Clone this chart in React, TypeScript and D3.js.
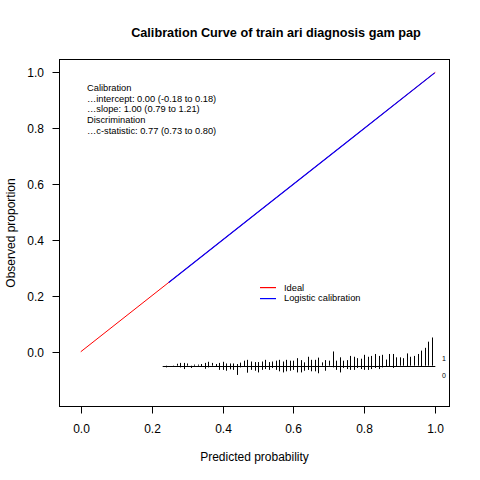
import React, { useEffect, useRef } from 'react';
import * as d3 from 'd3';

// spike histogram bins (predicted probability)
const bins = d3.range(24, 100).map((v) => v / 100);
// heights of spikes for outcome = 1 (upwards) and outcome = 0 (downwards), x1000 in y units
const spikesUp = [
  0, 0, 0, 7, 10, 10, 8, 0, 4, 4, 6, 10, 14, 10, 6, 10, 14, 8, 8, 8, 6, 11, 18, 21, 15, 13, 13, 15, 21, 13, 15, 18, 21,
  15, 21, 18, 18, 27, 20, 12, 32, 21, 21, 29, 12, 20, 18, 51, 18, 30, 18, 20, 35, 32, 27, 25, 39, 32, 35, 42, 35, 39,
  22, 42, 42, 30, 30, 27, 44, 32, 35, 42, 54, 64, 86, 101,
];
const spikesDown = [
  6, 0, 4, 0, 6, 12, 0, 8, 0, 0, 4, 11, 6, 0, 4, 15, 15, 18, 13, 15, 33, 6, 4, 25, 15, 18, 24, 15, 12, 15, 8, 15, 20,
  24, 20, 18, 15, 24, 24, 18, 15, 20, 20, 27, 0, 18, 0, 6, 15, 24, 8, 12, 15, 15, 8, 12, 15, 15, 12, 8, 12, 6, 4, 4,
  8, 4, 0, 0, 4, 0, 0, 0, 4, 0, 0, 0,
];
const predRange = [0.231, 1.0];

const ideal: [number, number][] = [
  [0, 0],
  [1, 1],
];
const logistic: [number, number][] = [
  [0.248, 0.248],
  [0.5, 0.5],
  [0.75, 0.75],
  [0.998, 0.998],
];

const ticks = [0, 0.2, 0.4, 0.6, 0.8, 1.0];
const statsLines = [
  'Calibration',
  '...intercept: 0.00 (-0.18 to 0.18)',
  '...slope: 1.00 (0.79 to 1.21)',
  'Discrimination',
  '...c-statistic: 0.77 (0.73 to 0.80)',
];
const legendItems = [
  { name: 'Ideal', color: '#ff0000' },
  { name: 'Logistic calibration', color: '#0000ff' },
];

const CalibrationPlot: React.FC = () => {
  const ref = useRef<SVGSVGElement>(null);

  useEffect(() => {
    const width = 480;
    const height = 480;
    const left = 59.5;
    const right = 449.5;
    const top = 59.5;
    const bottom = 406.5;
    const font = 'Liberation Sans, Arial, sans-serif';

    const svg = d3.select(ref.current).attr('width', width).attr('height', height);

    const x = d3.scaleLinear().domain([-0.06, 1.04]).range([left, right]);
    const y = d3.scaleLinear().domain([-0.196, 1.046]).range([bottom, top]);
    const spikeScale = d3.scaleLinear().domain([0, 1000]).range([0, 1]);
    const base = -0.05;

    svg.append('rect').attr('width', width).attr('height', height).attr('fill', 'white');

    // title
    svg
      .append('text')
      .attr('x', 276)
      .attr('y', 37)
      .attr('text-anchor', 'middle')
      .attr('font-family', font)
      .attr('font-weight', 'bold')
      .attr('font-size', 12.7)
      .text('Calibration Curve of train ari diagnosis gam pap');

    // box
    svg
      .append('rect')
      .attr('x', left)
      .attr('y', top)
      .attr('width', right - left)
      .attr('height', bottom - top)
      .attr('fill', 'none')
      .attr('stroke', 'black');

    // x axis
    const xAxis = svg.append('g');
    ticks.forEach((t) => {
      const px = Math.round(x(t)) + 0.5;
      xAxis.append('line').attr('x1', px).attr('x2', px).attr('y1', bottom).attr('y2', bottom + 7).attr('stroke', 'black');
      xAxis
        .append('text')
        .attr('x', px)
        .attr('y', 433)
        .attr('text-anchor', 'middle')
        .attr('font-family', font)
        .attr('font-size', 12)
        .text(t.toFixed(1));
    });
    svg
      .append('text')
      .attr('x', (left + right) / 2)
      .attr('y', 461)
      .attr('text-anchor', 'middle')
      .attr('font-family', font)
      .attr('font-size', 12)
      .text('Predicted probability');

    // y axis
    const yAxis = svg.append('g');
    ticks.forEach((t) => {
      const py = Math.round(y(t)) + 0.5;
      yAxis.append('line').attr('x1', left - 7).attr('x2', left).attr('y1', py).attr('y2', py).attr('stroke', 'black');
      yAxis
        .append('text')
        .attr('x', 44)
        .attr('y', py + 4.2)
        .attr('text-anchor', 'end')
        .attr('font-family', font)
        .attr('font-size', 12)
        .text(t.toFixed(1));
    });
    svg
      .append('text')
      .attr('transform', `translate(15, ${(top + bottom) / 2}) rotate(-90)`)
      .attr('text-anchor', 'middle')
      .attr('font-family', font)
      .attr('font-size', 12)
      .text('Observed proportion');

    const line = d3
      .line<[number, number]>()
      .x((d) => x(d[0]))
      .y((d) => y(d[1]));

    svg.append('path').attr('d', line(ideal)).attr('fill', 'none').attr('stroke', '#ff0000').attr('stroke-width', 1);
    svg.append('path').attr('d', line(logistic)).attr('fill', 'none').attr('stroke', '#0000ff').attr('stroke-width', 1.1);

    // stats text
    svg
      .append('g')
      .attr('font-family', font)
      .attr('font-size', 9.3)
      .selectAll('text')
      .data(statsLines)
      .join('text')
      .attr('x', 87)
      .attr('y', (_d, i) => 91 + i * 10.7)
      .text((d) => d.replace('...', '\u2026'));

    // legend
    const legend = svg.append('g').attr('font-family', font).attr('font-size', 9.3);
    legendItems.forEach((item, i) => {
      const ly = 287 + i * 10.5;
      legend
        .append('rect')
        .attr('x', 260)
        .attr('y', Math.round(ly))
        .attr('width', 16)
        .attr('height', 1.2)
        .attr('fill', item.color);
      legend
        .append('text')
        .attr('x', 284)
        .attr('y', ly + 3.7)
        .text(item.name);
    });

    // spike histogram
    const spikes = svg.append('g').attr('stroke', 'black').attr('stroke-width', 1);
    const by = Math.round(y(base)) + 0.5;
    spikes
      .append('line')
      .attr('x1', x(predRange[0]))
      .attr('x2', x(predRange[1]))
      .attr('y1', by)
      .attr('y2', by);
    spikes
      .selectAll('line.spike')
      .data(bins)
      .join('line')
      .attr('class', 'spike')
      .attr('x1', (d) => Math.round(x(d)) + 0.5)
      .attr('x2', (d) => Math.round(x(d)) + 0.5)
      .attr('y1', (_d, i) => y(base - spikeScale(spikesDown[i])))
      .attr('y2', (_d, i) => y(base + spikeScale(spikesUp[i])))
      .attr('display', (_d, i) => (spikesUp[i] + spikesDown[i] > 0 ? null : 'none'));

    svg
      .append('g')
      .attr('font-family', font)
      .attr('font-size', 7)
      .attr('text-anchor', 'middle')
      .selectAll('text')
      .data(['1', '0'])
      .join('text')
      .attr('x', 444)
      .attr('y', (_d, i) => 361 + i * 17)
      .text((d) => d);

    return () => {
      svg.selectAll('*').remove();
    };
  }, []);

  return <svg ref={ref} style={{ position: 'absolute', left: 0, top: 0 }}></svg>;
};

export default function App() {
  return <CalibrationPlot />;
}
